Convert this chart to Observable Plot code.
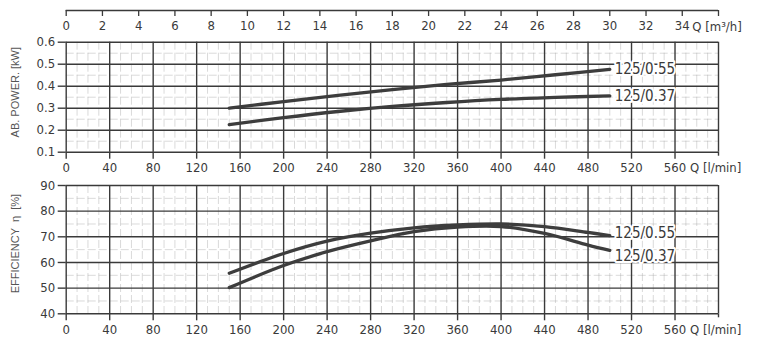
<!DOCTYPE html>
<html><head><meta charset="utf-8">
<script src="https://cdn.jsdelivr.net/npm/d3@7"></script>
<script src="https://cdn.jsdelivr.net/npm/@observablehq/plot@0.6"></script>
<style>
body{margin:0;background:#fff;}
#chart{position:relative;width:760px;height:351px;overflow:hidden;background:#fff;}
#chart svg{position:absolute;left:0;background:transparent;}
</style></head><body><div id="chart"></div>
<script>
// ---- data ----
const seriesNames = ["125/0.55", "125/0.37"];
const powerQ = [150, 200, 250, 300, 350, 400, 450, 500];          // l/min
const power055 = [0.300, 0.330, 0.358, 0.384, 0.408, 0.428, 0.452, 0.476]; // kW
const power037 = [0.225, 0.257, 0.285, 0.308, 0.326, 0.340, 0.349, 0.356]; // kW
const effQ = [150, 200, 240, 280, 320, 360, 400, 440, 480, 500];  // l/min
const eff055 = [55.8, 63.5, 68.3, 71.4, 73.5, 74.6, 75.0, 74.0, 71.7, 70.5]; // %
const eff037 = [50.2, 58.8, 64.2, 68.4, 72.0, 73.8, 74.0, 71.3, 66.8, 64.7]; // %
const qTicks = [0, 40, 80, 120, 160, 200, 240, 280, 320, 360, 400, 440, 480, 520, 560]; // l/min
const m3hTicks = [0, 2, 4, 6, 8, 10, 12, 14, 16, 18, 20, 22, 24, 26, 28, 30, 32, 34];
const powerTicks = [0.1, 0.2, 0.3, 0.4, 0.5, 0.6];
const effTicks = [40, 50, 60, 70, 80, 90];
const qMax = 600;       // l/min, right edge of the grid
const lminPerM3h = 1000 / 60;

// ---- styling ----
const W = 760, ML = 65.7, MR = 42;
const narrow = "'Liberation Sans Narrow','Arial Narrow','DejaVu Sans Condensed',sans-serif";
const regular = "'Liberation Sans',Arial,sans-serif";
const ink = "#3a3a3a";
const curveInk = "#3d3d3d";
const minorStyle = {stroke: "#a0a0a0", strokeOpacity: 0.4, strokeWidth: 1, strokeDasharray: "8,3"};
const majorStyle = {stroke: "#3a3a3a", strokeWidth: 1.4};
const chart = document.getElementById("chart");

function place(svg, top) { svg.style.top = top + "px"; chart.appendChild(svg); }

// ---- top m3/h axis ----
const topAxis = Plot.plot({
  width: W, height: 35, marginLeft: ML, marginRight: MR, marginTop: 0, marginBottom: 25,
  x: {domain: [0, qMax / lminPerM3h]}, y: {domain: [0, 1], axis: null},
  style: {fontFamily: narrow, fontSize: "13px", color: ink, background: "transparent"},
  marks: [
    Plot.ruleY([0], {stroke: "#3a3a3a", strokeWidth: 1.3}),
    Plot.axisX(m3hTicks, {anchor: "bottom", tickSize: 6, tickPadding: 4, label: null, strokeWidth: 1.3}),
    Plot.axisX([qMax / lminPerM3h], {anchor: "bottom", tickSize: 6, tickFormat: () => "", label: null, strokeWidth: 1.3}),
    Plot.text(["Q [m³/h]"], {x: () => m3hTicks[m3hTicks.length - 1], frameAnchor: "bottom", dy: 16, dx: 10,
      textAnchor: "start", lineAnchor: "middle", fill: ink, fontSize: 13})
  ]
});
place(topAxis, 0);

// ---- panel factory ----
function panel({height, marginTop, marginBottom, yDomain, yTicks, yFormat, minorStep, series, q, labelDy, title, titleDy}) {
  const rows = [];
  series.forEach((vals, i) => vals.forEach((v, j) => rows.push({name: seriesNames[i], q: q[j], v})));
  const ends = series.map((vals, i) => ({name: seriesNames[i], q: q[q.length - 1], v: vals[vals.length - 1], dy: labelDy[i]}));
  const minorX = d3.range(0, qMax, 10).filter(d => d % 40 !== 0);
  const minorY = d3.range(yDomain[0] + minorStep / 2, yDomain[1], minorStep);
  return Plot.plot({
    width: W, height, marginLeft: ML, marginRight: MR, marginTop, marginBottom,
    x: {domain: [0, qMax]}, y: {domain: yDomain},
    style: {fontFamily: narrow, fontSize: "13px", color: ink, background: "transparent"},
    marks: [
      Plot.ruleX(minorX, minorStyle),
      Plot.ruleY(minorY, minorStyle),
      Plot.ruleY(yTicks, majorStyle),
      Plot.ruleX(qTicks, majorStyle),
      Plot.ruleX([qMax], majorStyle),
      Plot.axisX(qTicks, {anchor: "bottom", tickSize: 7, tickPadding: 4, label: null, strokeWidth: 1.4}),
      Plot.axisX([qMax], {anchor: "bottom", tickSize: 4, tickFormat: () => "", label: null, strokeWidth: 1.4}),
      Plot.axisY(yTicks, {anchor: "left", tickSize: 8, tickPadding: 3, tickFormat: yFormat, label: null, strokeWidth: 1.4}),
      Plot.text(["Q [l/min]"], {x: () => qTicks[qTicks.length - 1], frameAnchor: "bottom", dx: 15, dy: 16,
        textAnchor: "start", lineAnchor: "middle", fill: ink, fontSize: 13}),
      Plot.line(rows, {x: "q", y: "v", z: "name", stroke: curveInk, strokeWidth: 3.3, curve: "catmull-rom"}),
      ...ends.map(e => Plot.text([e], {x: "q", y: "v", text: "name", dx: 5, dy: e.dy, textAnchor: "start", lineAnchor: "middle",
        fill: ink, fontSize: 15, stroke: "white", strokeWidth: 4, paintOrder: "stroke"})),
      Plot.text([title], {frameAnchor: "left", dx: -51, dy: titleDy, rotate: -90, fontFamily: regular,
        fontSize: 11, fill: "#555", textAnchor: "middle", lineAnchor: "middle"})
    ]
  });
}

const powerPlot = panel({
  height: 143, marginTop: 6.7, marginBottom: 26.3,
  yDomain: [0.1, 0.6], yTicks: powerTicks, yFormat: d3.format(".1f"), minorStep: 0.1,
  series: [power055, power037], q: powerQ, labelDy: [0, 0],
  title: "AB. POWER. [kW]", titleDy: -5
});
place(powerPlot, 35);

const effPlot = panel({
  height: 173, marginTop: 7, marginBottom: 37.7,
  yDomain: [40, 90], yTicks: effTicks, yFormat: d3.format("d"), minorStep: 10,
  series: [eff055, eff037], q: effQ, labelDy: [-2, 6],
  title: "EFFICIENCY  η  [%]", titleDy: -6
});
place(effPlot, 178);
</script></body></html>
